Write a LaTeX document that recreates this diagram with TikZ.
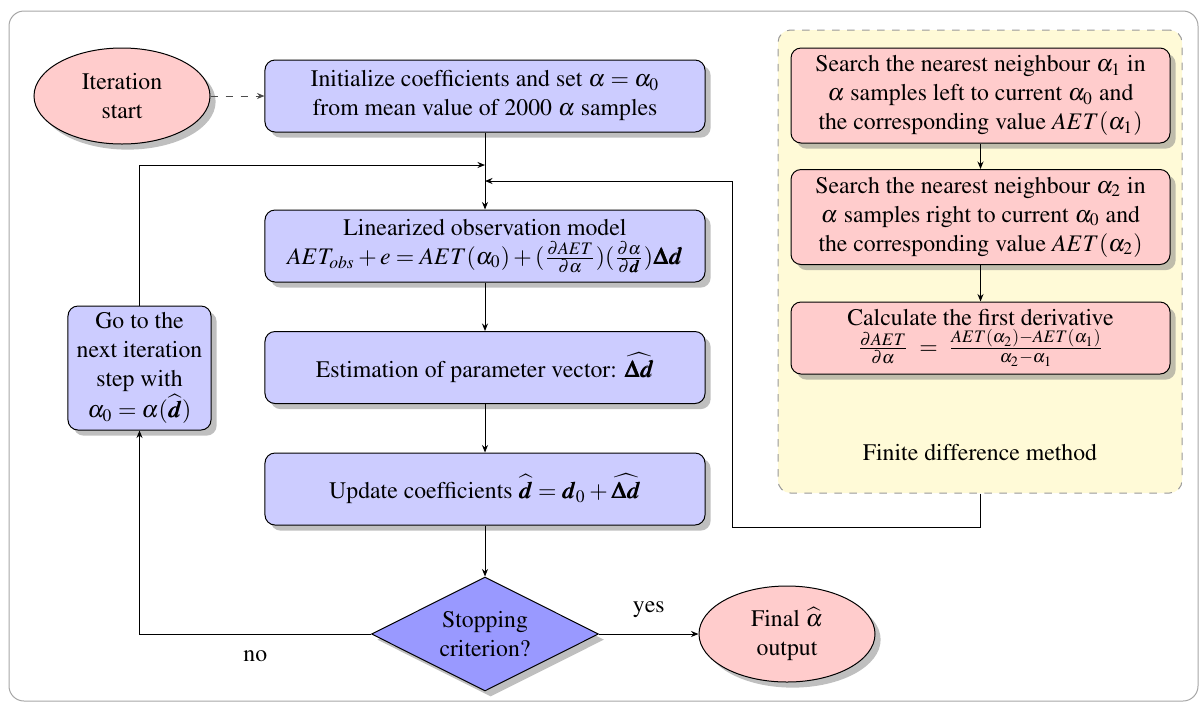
\documentclass[tikz,border=0pt]{standalone}
\usepackage[T1]{fontenc}
\usepackage{amsmath}
\usepackage{mathptmx}
\usepackage{bm}
\usetikzlibrary{shapes.geometric,shadows,arrows.meta}
\newcommand{\bd}{\bm{d}}
\newcommand{\bD}{\bm{\Delta}}
\definecolor{bluebox}{RGB}{204,204,255}
\definecolor{pinkbox}{RGB}{255,204,204}
\definecolor{diafill}{RGB}{153,153,255}
\definecolor{yellowbg}{RGB}{255,250,215}
\tikzset{
  >={Stealth[length=3pt,width=2.4pt]},
  every node/.style={font=\fontsize{9.5}{11.6}\selectfont, align=center},
  bluestep/.style={draw, fill=bluebox, rounded corners=4pt, drop shadow, minimum width=176pt, minimum height=28.8pt, inner sep=2pt},
  pinkstep/.style={draw, fill=pinkbox, rounded corners=4pt, drop shadow, minimum width=151.6pt, inner sep=2pt},
  oval/.style={draw, ellipse, fill=pinkbox, drop shadow, minimum width=70.4pt, minimum height=38.4pt, inner sep=0pt},
  decide/.style={draw, diamond, aspect=2, fill=diafill, drop shadow, minimum width=90.8pt, minimum height=45.6pt, inner sep=1pt},
  fdregion/.style={draw=black!40, dashed, fill=yellowbg, rounded corners=5pt, minimum width=161.6pt, minimum height=185.2pt},
}
\begin{document}
\begin{tikzpicture}[x=0.4pt, y=-0.4pt]
\useasboundingbox (0,0) rectangle (1200,702);
\draw[black!35, rounded corners=6pt] (9,11) rectangle (1198,701);

% finite difference region
\node[fdregion] (fd) at (980,261.5) {};
\node (fdl) at (980,453) {Finite difference method};

% main nodes
\node[oval] (start) at (122,96) {Iteration\\start};
\node[bluestep] (init) at (485,96) {Initialize coefficients and set $\alpha=\alpha_0$\\from mean value of 2000 $\alpha$ samples};
\node[bluestep] (lin) at (485,246) {Linearized observation model\\$AET_{obs}+e=AET(\alpha_0)+(\frac{\partial AET}{\partial\alpha})(\frac{\partial\alpha}{\partial\bd})\bD\bd$};
\node[bluestep] (est) at (485,367.5) {Estimation of parameter vector: $\widehat{\bD\bd}$};
\node[bluestep] (upd) at (485,489) {Update coefficients $\widehat{\bd}=\bd_0+\widehat{\bD\bd}$};
\node[decide] (dia) at (485,634) {Stopping\\criterion?};
\node[oval] (final) at (787,634) {Final $\widehat{\alpha}$\\output};
\node[draw, fill=bluebox, rounded corners=4pt, drop shadow, minimum width=57.2pt, minimum height=49.6pt, inner sep=1pt] (go) at (139.5,368) {Go to the\\next iteration\\step with\\$\alpha_0=\alpha(\widehat{\bd})$};

% finite difference steps
\node[pinkstep, minimum height=38pt] (p1) at (980.5,95.5) {Search the nearest neighbour $\alpha_1$ in\\$\alpha$ samples left to current $\alpha_0$ and\\the corresponding value $AET(\alpha_1)$};
\node[pinkstep, minimum height=38pt] (p2) at (980.5,217) {Search the nearest neighbour $\alpha_2$ in\\$\alpha$ samples right to current $\alpha_0$ and\\the corresponding value $AET(\alpha_2)$};
\node[pinkstep, minimum height=28.8pt] (p3) at (980.5,338) {Calculate the first derivative\\$\frac{\partial AET}{\partial\alpha}\;=\;\frac{AET(\alpha_2)-AET(\alpha_1)}{\alpha_2-\alpha_1}$};

% junction coordinates
\coordinate (j1) at (485,165);
\coordinate (j2) at (485,181);
\coordinate (r1) at (732,527);

% connectors
\draw[->, dashed, black!70] (start) -- (init);
\draw[->] (init) -- (lin);
\draw[->] (lin) -- (est);
\draw[->] (est) -- (upd);
\draw[->] (upd) -- (dia);
\draw[->] (dia) -- node[above=3pt] (yes) {yes} (final);
\draw[->] (dia.west) -| node[pos=0.25, below=3pt] (no) {no} (go.south);
\draw[->] (go.north) |- (j1);
\draw[->] (fd.south) |- (r1) |- (j2);
\draw[->] (p1) -- (p2);
\draw[->] (p2) -- (p3);
\end{tikzpicture}
\end{document}
